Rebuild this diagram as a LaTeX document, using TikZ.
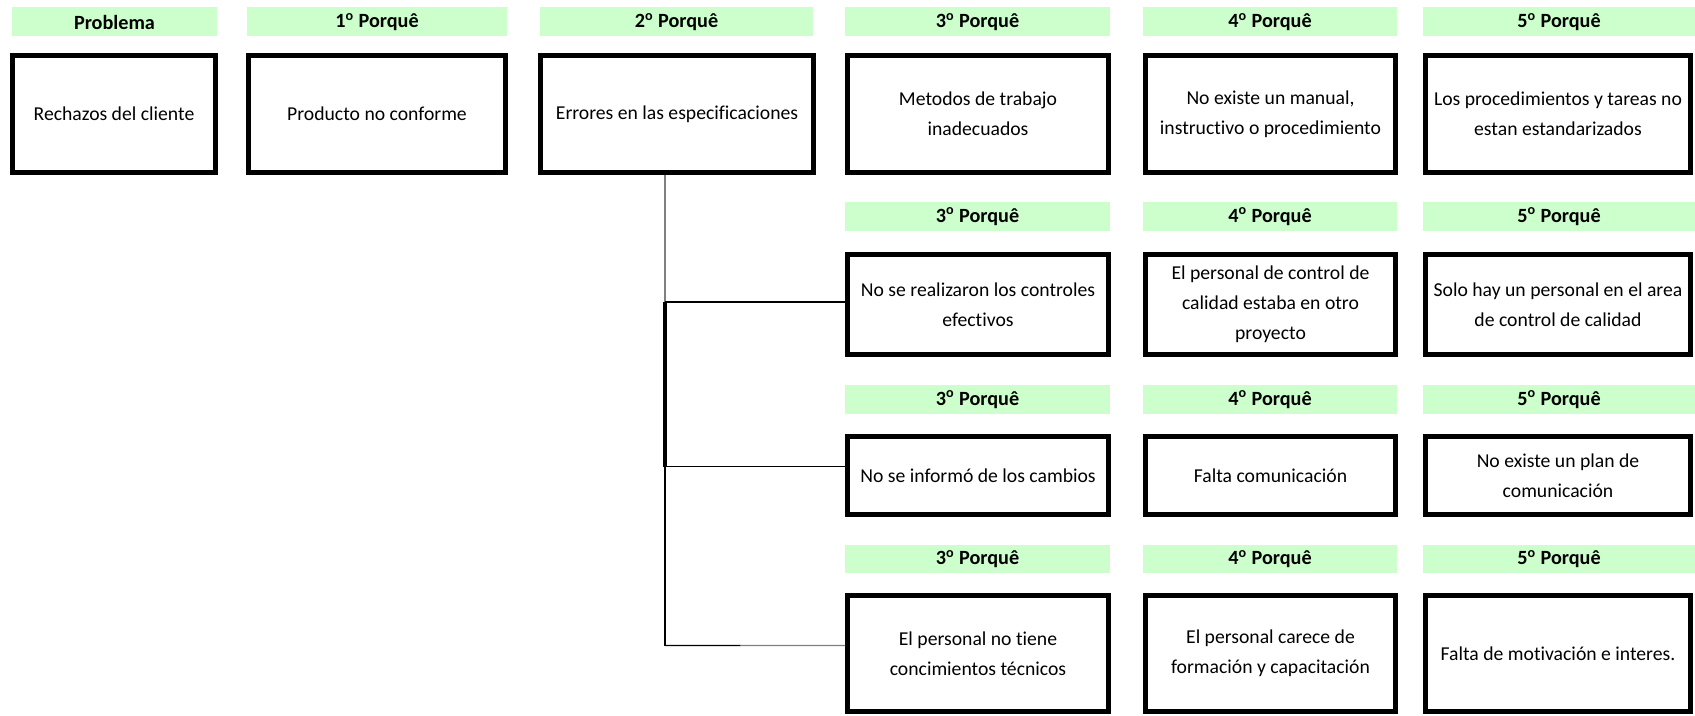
\documentclass[tikz,border=0pt]{standalone}
\usepackage{fontspec}
\setmainfont[Ligatures=NoCommon]{Carlito}
\usepackage{tikz}
\usetikzlibrary{positioning,calc}
\definecolor{verdeclaro}{HTML}{CCFFCC}

\begin{document}
\begin{tikzpicture}[x=0.02cm, y=-0.02cm,
  cab/.style={fill=verdeclaro, minimum width=#1, minimum height=0.58cm, inner sep=0pt,
    font=\fontsize{11.5}{13}\selectfont\bfseries},
  caja/.style 2 args={draw, line width=2.8pt, minimum width=#1, minimum height=#2,
    inner sep=2pt, align=center, font=\fontsize{11.2}{17}\selectfont},
  linea/.style={line width=0.6pt}]
  \useasboundingbox (0,0) rectangle (1695,716);
  % encabezados
  \node[cab=4.1cm] (h0) at (114.5,22) {Problema};
  \node[cab=5.2cm] (h1) at (377,22) {1\textsuperscript{o} Porquê};
  \node[cab=5.46cm] (h2) at (676.5,22) {2\textsuperscript{o} Porquê};
  \node[cab=5.3cm] (h3a) at (977.5,22) {3\textsuperscript{o} Porquê};
  \node[cab=5.08cm] (h4a) at (1270,22) {4\textsuperscript{o} Porquê};
  \node[cab=5.44cm] (h5a) at (1559,22) {5\textsuperscript{o} Porquê};
  \node[cab=5.3cm] (h3b) at (977.5,216.5) {3\textsuperscript{o} Porquê};
  \node[cab=5.08cm] (h4b) at (1270,216.5) {4\textsuperscript{o} Porquê};
  \node[cab=5.44cm] (h5b) at (1559,216.5) {5\textsuperscript{o} Porquê};
  \node[cab=5.3cm] (h3c) at (977.5,399.5) {3\textsuperscript{o} Porquê};
  \node[cab=5.08cm] (h4c) at (1270,399.5) {4\textsuperscript{o} Porquê};
  \node[cab=5.44cm] (h5c) at (1559,399.5) {5\textsuperscript{o} Porquê};
  \node[cab=5.3cm] (h3d) at (977.5,559) {3\textsuperscript{o} Porquê};
  \node[cab=5.08cm] (h4d) at (1270,559) {4\textsuperscript{o} Porquê};
  \node[cab=5.44cm] (h5d) at (1559,559) {5\textsuperscript{o} Porquê};
  % cajas
  \node[caja={4.06cm}{2.34cm}] (p0) at (114,114) {Rechazos del cliente};
  \node[caja={5.14cm}{2.34cm}] (p1) at (377,114) {Producto no conforme};
  \node[caja={5.46cm}{2.34cm}] (p2) at (677,114) {Errores en las especificaciones};
  \node[caja={5.22cm}{2.34cm}] (a3) at (978,114) {Metodos de trabajo\\inadecuados};
  \node[caja={5.0cm}{2.34cm}] (a4) at (1270.5,114) {No existe un manual,\\instructivo o procedimiento};
  \node[caja={5.3cm}{2.34cm}] (a5) at (1558,114) {Los procedimientos y tareas no\\estan estandarizados};
  \node[caja={5.22cm}{2.0cm}] (b3) at (978,304.5) {No se realizaron los controles\\efectivos};
  \node[caja={5.0cm}{2.0cm}] (b4) at (1270.5,304.5) {El personal de control de\\calidad estaba en otro\\proyecto};
  \node[caja={5.3cm}{2.0cm}] (b5) at (1558,304.5) {Solo hay un personal en el area\\de control de calidad};
  \node[caja={5.22cm}{1.56cm}] (c3) at (978,475.5) {No se informó de los cambios};
  \node[caja={5.0cm}{1.56cm}] (c4) at (1270.5,475.5) {Falta comunicación};
  \node[caja={5.3cm}{1.56cm}] (c5) at (1558,475.5) {No existe un plan de\\comunicación};
  \node[caja={5.22cm}{2.32cm}] (d3) at (978,653.5) {El personal no tiene\\concimientos técnicos};
  \node[caja={5.0cm}{2.32cm}] (d4) at (1270.5,653.5) {El personal carece de\\formación y capacitación};
  \node[caja={5.3cm}{2.32cm}] (d5) at (1558,653.5) {Falta de motivación e interes.};
  % conectores
  \coordinate (t) at ([xshift=-0.24cm]p2.south);
  \coordinate (kb) at ([yshift=0.05cm]b3.west);
  \coordinate (kc) at ([yshift=0.18cm]c3.west);
  \coordinate (kd) at ([yshift=0.16cm]d3.west);
  \draw[gray, line width=0.8pt] (t) -- (t |- kb);
  \draw[line width=1.8pt] (t |- kb) -- (t |- kc);
  \draw[linea] (t |- kc) -- (t |- kd);
  \draw[linea] (t |- kb) -- (kb);
  \draw[linea] (t |- kc) -- (kc);
  \draw[linea] (t |- kd) -- ($(t |- kd)!0.42!(kd)$) coordinate (km);
  \draw[linea, gray] (km) -- (kd);
\end{tikzpicture}
\end{document}
